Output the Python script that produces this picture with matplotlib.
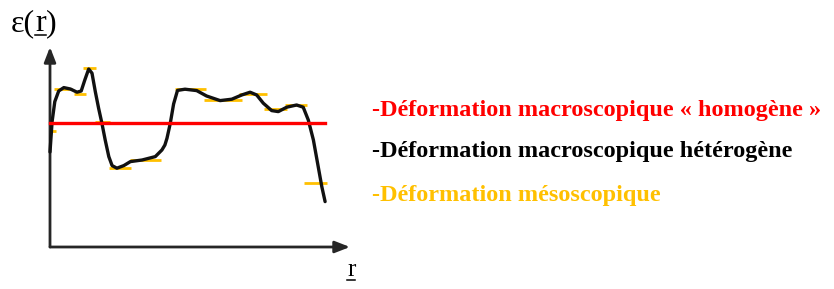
import matplotlib
matplotlib.use("Agg")
import matplotlib.pyplot as plt
from matplotlib.lines import Line2D

# heterogeneous macroscopic strain (black curve)
r_curve = [0.0, 0.07, 0.16, 0.29, 0.46, 0.68, 0.9, 1.04, 1.16, 1.29, 1.4, 1.51,
           1.62, 1.73, 1.84, 1.96, 2.07, 2.23, 2.46, 2.68, 3.07, 3.51, 3.73,
           3.83, 3.9, 4.01, 4.12, 4.25, 4.5, 4.89, 5.22, 5.67, 6.06, 6.39,
           6.67, 6.89, 7.11, 7.39, 7.61, 7.89, 8.22, 8.44, 8.61, 8.78, 8.94,
           9.06, 9.17]
eps_curve = [4.75, 6.27, 7.27, 7.8, 7.97, 7.9, 7.74, 7.8, 8.35, 8.9, 8.69, 7.77,
             6.94, 6.19, 5.35, 4.52, 4.07, 3.94, 4.07, 4.27, 4.35, 4.52, 4.85,
             5.1, 5.44, 6.19, 7.15, 7.83, 7.89, 7.82, 7.55, 7.32, 7.39, 7.6,
             7.74, 7.6, 7.19, 6.82, 6.77, 6.99, 7.1, 6.99, 6.35, 5.35, 4.02,
             3.02, 2.27]

# homogeneous macroscopic strain (red line)
r_homog = [0.0, 9.17]
eps_homog = [6.2, 6.2]

# mesoscopic strain (yellow steps): start, end, level
meso_start = [-0.03, 0.13, 0.8, 1.1, 1.5, 1.97, 2.67, 3.7, 4.17, 5.13, 6.3, 7.13, 7.83, 8.47]
meso_end = [0.2, 0.73, 1.2, 1.53, 2.0, 2.7, 3.7, 4.17, 5.2, 6.4, 7.23, 7.9, 8.57, 9.23]
meso_level = [5.8, 7.9, 7.65, 8.95, 6.25, 3.95, 4.35, 6.2, 7.9, 7.35, 7.65, 6.9, 7.1, 3.2]

legend_labels = ["-Déformation macroscopique « homogène »",
                 "-Déformation macroscopique hétérogène",
                 "-Déformation mésoscopique"]
legend_colors = ["#ff0000", "#000000", "#ffc000"]

W, H = 834, 289
fig = plt.figure(figsize=(W / 100, H / 100), dpi=100)
ax = fig.add_axes([50 / W, (H - 247) / H, 300 / W, 200 / H])
ax.set_xlim(0, 10)
ax.set_ylim(0, 10)
ax.axis("off")

# axes with arrow heads
arrow = dict(arrowstyle="-|>,head_length=0.9,head_width=0.35", color="#262626",
             lw=2.0, shrinkA=0, shrinkB=0)
ax.annotate("", xy=(10, 0), xytext=(0, 0), arrowprops=arrow, annotation_clip=False)
ax.annotate("", xy=(0, 10), xytext=(0, 0), arrowprops=arrow, annotation_clip=False)

ax.hlines(meso_level, meso_start, meso_end, colors="#ffc000", lw=2.0, zorder=2, clip_on=False)
ax.plot(r_curve, eps_curve, color="#111111", lw=2.4, solid_joinstyle="round",
        solid_capstyle="round", zorder=3, clip_on=False)
ax.plot(r_homog, eps_homog, color="#ff0000", lw=2.4, zorder=4, clip_on=False)

serif = ["Liberation Serif", "DejaVu Serif"]
renderer = fig.canvas.get_renderer()


def underlined_label(x, y, before, under, after, size):
    # text pieces placed one after another, underline below the middle one
    xpix = x
    for piece, ul in ((before, False), (under, True), (after, False)):
        t = fig.text(xpix / W, 1 - y / H, piece, family=serif, fontsize=size,
                     va="baseline", ha="left")
        bb = t.get_window_extent(renderer)
        if ul:
            yl = 1 - (y + 4) / H
            fig.add_artist(Line2D([bb.x0 / W, bb.x1 / W], [yl, yl], color="black", lw=1.1))
        xpix = bb.x1


underlined_label(11, 31, "ε(", "r", ")", 23)
underlined_label(347, 276, "", "r", "", 18)

ys = [110, 152, 195]
for lab, col, y in zip(legend_labels, legend_colors, ys):
    fig.text(372 / W, 1 - y / H, lab, family=serif, weight="bold", fontsize=17.5,
             color=col, va="center", ha="left")

fig.savefig("out.png", dpi=100, facecolor="white")
